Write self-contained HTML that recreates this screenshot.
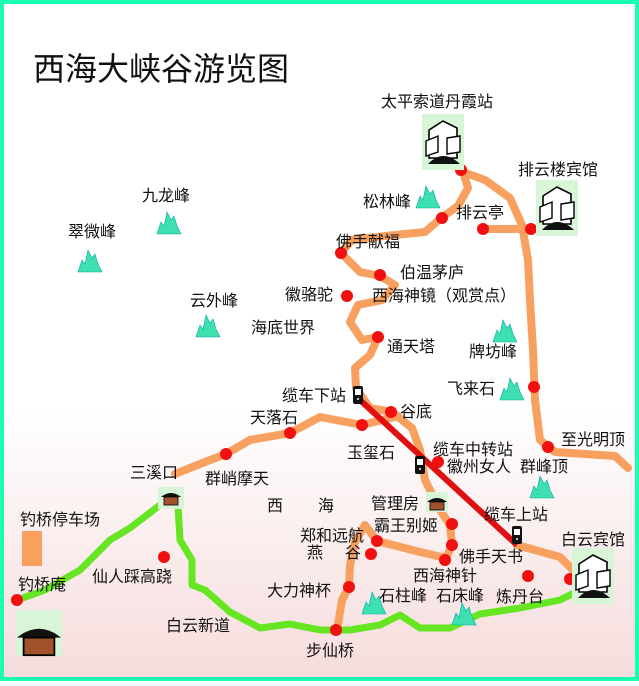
<!DOCTYPE html>
<html><head><meta charset="utf-8">
<style>
html,body{margin:0;padding:0;}
body{width:639px;height:681px;overflow:hidden;}
svg text{font-family:"Liberation Sans","Noto Sans CJK SC",sans-serif;font-size:16px;fill:#111;}
</style></head><body>
<svg width="639" height="681" viewBox="0 0 639 681" xmlns="http://www.w3.org/2000/svg">
<defs>
<linearGradient id="bg" x1="0" y1="0" x2="0" y2="1">
<stop offset="0" stop-color="#ffffff"/>
<stop offset="0.6" stop-color="#ffffff"/>
<stop offset="1" stop-color="#f6dcdc"/>
</linearGradient>
<g id="peak"><path d="M0,22 L4,10 L7,14 L10,0 L14,8 L17,4 L20,14 L24,22 Z" fill="#3fe0b0" stroke="#0aa" stroke-width="0.6"/></g>
<g id="car"><rect x="-5" y="-9" width="10" height="18" rx="2" fill="#111"/><rect x="-3" y="-6" width="6" height="6" fill="#fff"/><circle cx="0" cy="4" r="1" fill="#fff"/></g>
<g id="hotel"><rect x="0" y="0" width="42" height="56" fill="#d8f5d8"/><path d="M7,16 L21,7 L35,14 L35,44 L7,44 Z" fill="#fff" stroke="#000" stroke-width="1.6"/><path d="M4,27 L16,22 L16,38 L4,42Z M25,24 L38,22 L38,38 L25,40Z" fill="#fff" stroke="#000" stroke-width="1.4"/><path d="M6,50 Q21,34 38,50 Z" fill="#111"/></g>
<g id="pav"><path d="M0,8 Q10,0 20,8 Z" fill="#111"/><rect x="3" y="8" width="14" height="8" fill="#a0522d" stroke="#000" stroke-width="0.8"/></g>
</defs>
<rect x="0" y="0" width="639" height="681" fill="#1affb0"/>
<rect x="4" y="4" width="631" height="673" fill="url(#bg)"/>

<text x="33" y="80" style="font-size:32px">西海大峡谷游览图</text>

<g fill="none" stroke="#f7a060" stroke-width="8" stroke-linecap="round" stroke-linejoin="round">
<path d="M341,253 L352,240 L385,236 L425,232 L441,218 L458,206 L468,188 L463,172"/>
<path d="M463,172 L485,180 L510,198 L522,225 L528,260 L530,300 L533,350 L535,400 L540,440 L555,452 L615,456 L628,468"/>
<path d="M483,229 L531,229"/>
<path d="M341,253 L360,272 L380,276 L395,285 L382,300 L358,305 L350,322 L362,340 L378,337 L370,355 L355,368 L356,388 L370,408 L392,412 L412,428 L420,450 L425,480 L440,510 L450,525 L452,545 L446,558"/>
<path d="M398,416 L362,425 L320,417 L290,433 L250,440 L226,454 L205,462 L175,474"/>
<path d="M446,558 L420,552 L377,541 L365,525 L355,542 L350,565 L349,587 L342,600 L338,625"/>
<path d="M517,545 L560,557 L575,572"/>
</g>
<g fill="none" stroke="#66e622" stroke-width="7" stroke-linecap="round" stroke-linejoin="round">
<path d="M17,600 L45,590 L80,570 L110,540 L130,528 L160,505"/>
<path d="M178,505 L180,540 L192,560 L192,585 L205,590 L230,612 L260,628 L290,624 L320,630 L350,630 L380,625 L400,615 L420,628 L450,628 L480,614 L520,608 L560,600 L580,590"/>
</g>
<line x1="360" y1="400" x2="517" y2="545" stroke="#e01010" stroke-width="6"/>

<g fill="#f01010">
<circle cx="461" cy="170" r="6"/><circle cx="442" cy="218" r="6"/><circle cx="483" cy="229" r="6"/><circle cx="531" cy="229" r="6"/>
<circle cx="341" cy="253" r="6"/><circle cx="380" cy="275" r="6"/><circle cx="347" cy="296" r="6"/><circle cx="378" cy="337" r="6"/>
<circle cx="534" cy="387" r="6"/><circle cx="391" cy="412" r="6"/><circle cx="362" cy="425" r="6"/><circle cx="290" cy="433" r="6"/>
<circle cx="226" cy="454" r="6"/><circle cx="438" cy="462" r="6"/><circle cx="548" cy="447" r="6"/>
<circle cx="452" cy="524" r="6"/><circle cx="452" cy="545" r="6"/><circle cx="445" cy="560" r="6"/>
<circle cx="377" cy="541" r="6"/><circle cx="371" cy="554" r="6"/><circle cx="349" cy="587" r="6"/>
<circle cx="528" cy="576" r="6"/><circle cx="570" cy="579" r="6"/><circle cx="164" cy="557" r="6"/>
<circle cx="17" cy="600" r="6"/><circle cx="336" cy="630" r="6"/>
</g>

<use href="#hotel" x="422" y="114"/>
<use href="#hotel" x="536" y="180"/>
<use href="#hotel" x="572" y="548"/>
<use href="#car" x="358" y="395"/>
<use href="#car" x="420" y="465"/>
<use href="#car" x="517" y="535"/>
<rect x="158" y="487" width="26" height="22" fill="#d8f5d8"/><use href="#pav" x="161" y="489"/>
<rect x="16" y="610" width="46" height="46" fill="#d8f5d8"/><g transform="translate(17,620) scale(2.2)"><use href="#pav"/></g>
<rect x="426" y="492" width="22" height="20" fill="#d8f5d8"/><use href="#pav" x="427" y="494"/>
<rect x="22" y="531" width="20" height="35" fill="#f9a060"/>
<use href="#peak" x="157" y="212"/><use href="#peak" x="78" y="250"/><use href="#peak" x="196" y="315"/>
<use href="#peak" x="416" y="186"/><use href="#peak" x="493" y="320"/><use href="#peak" x="500" y="378"/>
<use href="#peak" x="530" y="476"/><use href="#peak" x="362" y="592"/><use href="#peak" x="452" y="603"/>

<text x="381" y="107">太平索道丹霞站</text>
<text x="518" y="175">排云楼宾馆</text>
<text x="363" y="207">松林峰</text>
<text x="456" y="218">排云亭</text>
<text x="142" y="201">九龙峰</text>
<text x="68" y="237">翠微峰</text>
<text x="336" y="247">佛手献福</text>
<text x="400" y="278">伯温茅庐</text>
<text x="285" y="300">徽骆驼</text>
<text x="372" y="301">西海神镜（观赏点）</text>
<text x="190" y="306">云外峰</text>
<text x="251" y="333">海底世界</text>
<text x="387" y="352">通天塔</text>
<text x="469" y="357">牌坊峰</text>
<text x="447" y="394">飞来石</text>
<text x="282" y="401">缆车下站</text>
<text x="400" y="417">谷底</text>
<text x="250" y="423">天落石</text>
<text x="561" y="445">至光明顶</text>
<text x="433" y="455">缆车中转站</text>
<text x="347" y="458">玉玺石</text>
<text x="447" y="472">徽州女人</text>
<text x="520" y="472">群峰顶</text>
<text x="130" y="478">三溪口</text>
<text x="205" y="484">群峭摩天</text>
<text x="267" y="511">西</text>
<text x="318" y="511">海</text>
<text x="371" y="509">管理房</text>
<text x="20" y="525">钓桥停车场</text>
<text x="484" y="520">缆车上站</text>
<text x="374" y="531">霸王别姬</text>
<text x="300" y="541">郑和远航</text>
<text x="561" y="545">白云宾馆</text>
<text x="307" y="558">燕</text>
<text x="345" y="558">谷</text>
<text x="459" y="562">佛手天书</text>
<text x="92" y="582">仙人踩高跷</text>
<text x="18" y="590">钓桥庵</text>
<text x="413" y="581">西海神针</text>
<text x="267" y="596">大力神杯</text>
<text x="379" y="601">石柱峰</text>
<text x="436" y="601">石床峰</text>
<text x="496" y="602">炼丹台</text>
<text x="166" y="631">白云新道</text>
<text x="306" y="656">步仙桥</text>
</svg>
</body></html>
